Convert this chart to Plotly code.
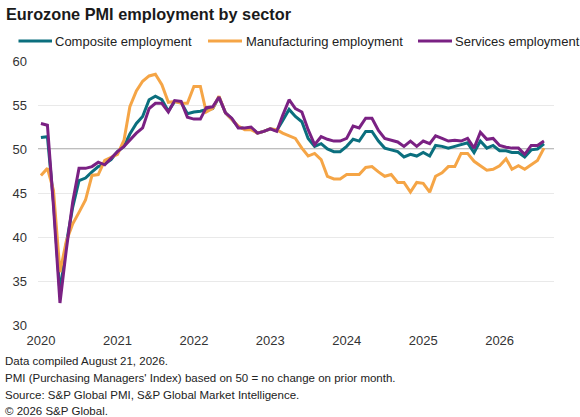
import pandas as pd
import plotly.graph_objects as go

months = pd.date_range("2020-01-01", periods=80, freq="MS")

composite = [51.3, 51.4, 44.0, 33.6, 39.2, 43.4, 46.4, 46.7, 47.4, 48.0,
             48.3, 48.8, 49.7, 50.3, 51.7, 52.9, 53.7, 55.6, 56.0, 55.6,
             54.3, 55.4, 55.3, 54.0, 54.2, 54.3, 54.5, 54.6, 55.9, 54.1,
             53.4, 52.5, 52.3, 52.4, 51.8, 52.0, 52.3, 52.1, 53.2, 54.5,
             53.7, 53.1, 51.2, 50.3, 50.6, 50.0, 49.7, 49.7, 50.3, 51.1,
             50.9, 52.0, 52.0, 50.9, 50.1, 49.9, 49.7, 49.1, 49.4, 49.2,
             49.6, 49.2, 50.4, 50.3, 50.1, 50.3, 50.5, 50.7, 49.6, 50.9,
             50.1, 50.4, 49.8, 49.8, 49.6, 49.6, 49.1, 49.9, 50.0, 50.6]

manufacturing = [47.0, 47.8, 45.3, 36.0, 39.5, 41.5, 42.8, 44.2, 47.0, 47.1,
                 48.7, 49.0, 49.4, 51.0, 54.8, 56.6, 57.7, 58.3, 58.5, 57.3,
                 55.3, 55.4, 55.2, 55.2, 57.1, 57.1, 54.2, 54.6, 56.0, 54.1,
                 53.3, 52.6, 52.2, 52.2, 51.8, 52.0, 52.3, 52.2, 51.8, 51.5,
                 51.2, 50.1, 49.2, 49.5, 48.8, 46.9, 46.6, 46.6, 47.1, 47.1,
                 47.1, 47.9, 48.0, 47.4, 46.9, 47.1, 46.2, 46.2, 45.1, 46.2,
                 46.1, 45.1, 46.9, 47.3, 48.0, 48.0, 49.5, 49.5, 48.6, 48.1,
                 47.6, 47.7, 48.1, 48.9, 47.7, 48.1, 47.7, 48.2, 48.7, 50.1]

services = [52.9, 52.7, 43.5, 32.5, 38.5, 44.0, 47.8, 47.8, 48.0, 48.5,
            48.2, 49.0, 49.7, 50.3, 51.0, 51.8, 52.4, 54.6, 55.2, 55.2,
            54.2, 55.5, 55.4, 53.6, 53.4, 53.4, 54.7, 54.8, 55.9, 54.1,
            53.5, 52.4, 52.4, 52.5, 51.8, 52.0, 52.3, 52.0, 53.8, 55.6,
            54.6, 54.2, 52.2, 50.5, 51.4, 51.1, 50.9, 50.9, 51.2, 52.6,
            52.4, 53.5, 53.5, 52.1, 51.2, 51.0, 50.8, 50.3, 50.9, 50.3,
            50.9, 50.6, 51.5, 51.2, 50.9, 51.0, 50.9, 51.2, 50.1, 51.9,
            51.1, 51.2, 50.4, 50.2, 50.1, 50.1, 49.4, 50.4, 50.4, 50.9]

series_names = ["Composite employment", "Manufacturing employment", "Services employment"]
series_colors = ["#0b6f7e", "#f5a546", "#7a2183"]
y_ticks = [30, 35, 40, 45, 50, 55, 60]

title_text = "Eurozone PMI employment by sector"
footnotes = ["Data compiled August 21, 2026.",
             "PMI (Purchasing Managers' Index) based on 50 = no change on prior month.",
             "Source: S&P Global PMI, S&P Global Market Intelligence.",
             "\u00a9 2026 S&P Global."]

W, H = 580, 417
L, R, T, B = 38, 554, 61, 325  # plot area in pixels


def px(xp):
    return (xp - L) / (R - L)


def py(yp):
    return (B - yp) / (B - T)


fig = go.Figure()
for name, vals, col in zip(series_names, [composite, manufacturing, services], series_colors):
    fig.add_trace(go.Scatter(x=months, y=vals, mode="lines", name=name,
                             line=dict(color=col, width=3), showlegend=False))

# 50 reference line
fig.add_shape(type="line", xref="paper", yref="y", x0=0, x1=1, y0=50, y1=50,
              line=dict(color="#a8a8a8", width=1.5), layer="below")

# custom legend
legend_items = [(18.5, 52, 53), (208, 242, 243.5), (418, 452, 453)]
for (lx0, lx1, tx), name, col in zip(legend_items, series_names, series_colors):
    fig.add_shape(type="line", xref="paper", yref="paper", x0=px(lx0), x1=px(lx1),
                  y0=py(41), y1=py(41), line=dict(color=col, width=3))
    fig.add_annotation(xref="paper", yref="paper", x=px(tx), y=py(41), text=name,
                       showarrow=False, xanchor="left", yanchor="middle",
                       font=dict(size=13, color="#222222"))

# title
fig.add_annotation(xref="paper", yref="paper", x=px(4), y=py(14), text="<b>" + title_text + "</b>",
                   showarrow=False, xanchor="left", yanchor="middle",
                   font=dict(size=16.3, color="#1a1a1a"))

# footnotes
for yy, txt in zip([361, 378, 395, 411], footnotes):
    fig.add_annotation(xref="paper", yref="paper", x=px(3), y=py(yy), text=txt,
                       showarrow=False, xanchor="left", yanchor="middle",
                       font=dict(size=11.5, color="#222222"))

fig.update_layout(
    width=W, height=H,
    margin=dict(l=L, r=W - R, t=T, b=H - B, pad=0),
    paper_bgcolor="white", plot_bgcolor="white",
    font=dict(family="Liberation Sans, Arial, sans-serif", size=13, color="#333333"),
    showlegend=False,
)
fig.update_xaxes(type="date", range=["2019-12-18", "2026-09-18"], dtick="M12",
                 tick0="2020-01-01", tickformat="%Y", showgrid=False, zeroline=False,
                 showline=False, ticks="", ticklabelstandoff=6,
                 tickfont=dict(size=13, color="#333333"))
fig.update_yaxes(range=[30, 60], tickvals=y_ticks, showgrid=True, gridcolor="#e9e9e9",
                 gridwidth=1, zeroline=False, showline=False, ticks="",
                 ticklabelstandoff=10, tickfont=dict(size=13, color="#333333"))

fig.write_html("out.html", config={"displayModeBar": False},
               post_script="document.body.style.margin='0';document.body.style.padding='0';")
